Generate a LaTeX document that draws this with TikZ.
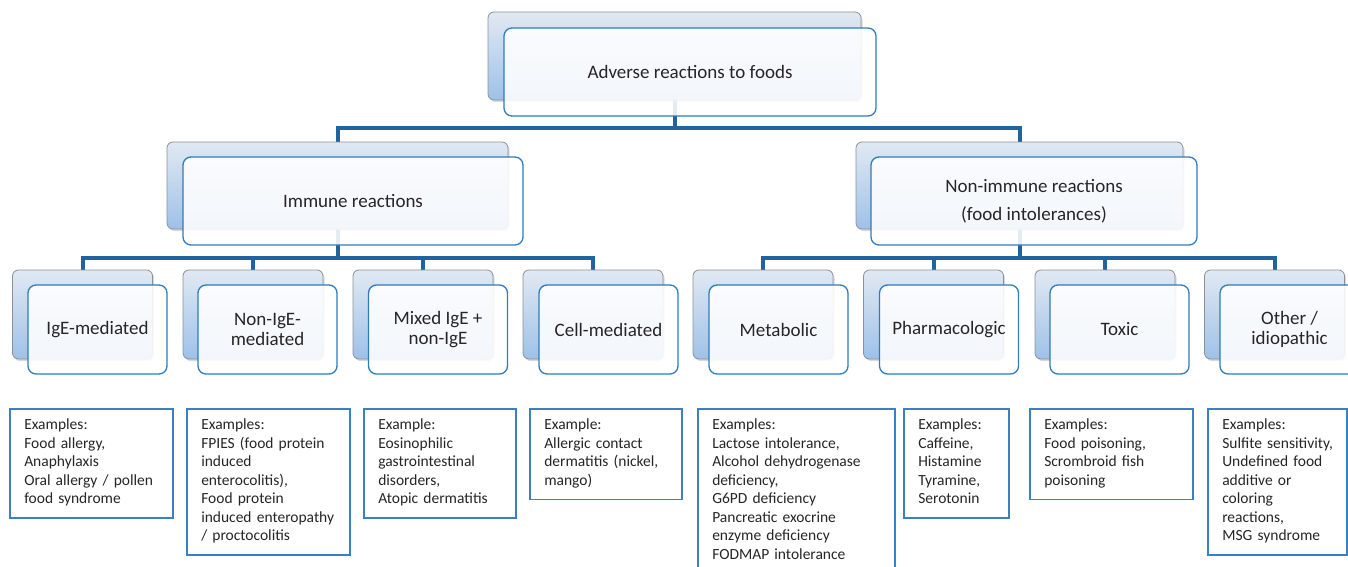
\documentclass[tikz,border=0pt]{standalone}
\usepackage{fontspec}
\setmainfont{Carlito}
\usetikzlibrary{shadows}
\definecolor{connblue}{HTML}{21639E}
\definecolor{frontblue}{HTML}{2E7BBD}
\definecolor{backtop}{HTML}{E1E9F2}
\definecolor{backbot}{HTML}{9EC1E8}
\definecolor{backline}{HTML}{8C9096}
\definecolor{exblue}{HTML}{3A80C2}
\definecolor{txt}{HTML}{262626}
\pgfdeclarelayer{bg}
\pgfsetlayers{bg,main}
\begin{document}
\begin{tikzpicture}[x=1pt,y=-1pt,
  backbox/.style={draw=backline, line width=0.8pt, rounded corners=6pt,
    top color=backtop, bottom color=backbot,
    drop shadow={opacity=0.3, shadow xshift=1.5pt, shadow yshift=-2pt},
    inner sep=0pt},
  frontbox/.style={draw=frontblue, line width=1.3pt, rounded corners=8pt,
    fill=white, fill opacity=0.88, text opacity=1, text=txt, align=center,
    inner sep=0pt, font=\fontsize{19}{20}\selectfont},
  leafback/.style={backbox, minimum width=140pt, minimum height=89pt},
  leaffront/.style={frontbox, minimum width=139pt, minimum height=89pt},
  conn/.style={draw=connblue, line width=4pt},
  exbox/.style={draw=exblue, line width=1.5pt, fill=white, anchor=north west,
    inner xsep=14.5pt, inner ysep=8.25pt, align=left, text=txt,
    font=\fontsize{15.5}{18.5}\selectfont}]
\useasboundingbox (0,0) rectangle (1348,567);

% top level
\node[backbox, minimum width=373pt, minimum height=88pt] (rootb) at (674.5,56) {};
% level 2 back
\node[backbox, minimum width=341pt, minimum height=87pt] (immb) at (337.5,185.5) {};
\node[backbox, minimum width=327pt, minimum height=87pt] (nonb) at (1019.5,185.5) {};
% level 3 back
\node[leafback] (l1b) at (82.5,314.5) {};
\node[leafback] (l2b) at (253,314.5) {};
\node[leafback] (l3b) at (423,314.5) {};
\node[leafback] (l4b) at (593,314.5) {};
\node[leafback] (l5b) at (763,314.5) {};
\node[leafback] (l6b) at (933.5,314.5) {};
\node[leafback] (l7b) at (1105,314.5) {};
\node[leafback] (l8b) at (1274.5,314.5) {};

% front boxes
\node[frontbox, minimum width=372pt, minimum height=88pt] (root) at (690,72) {Adverse reactions to foods};
\node[frontbox, minimum width=340pt, minimum height=88pt] (imm) at (353,201) {Immune reactions};
\node[frontbox, minimum width=326pt, minimum height=88pt, font=\fontsize{19}{28}\selectfont] (non) at (1034,201) {Non-immune reactions\\(food intolerances)};
\node[leaffront] (l1) at (97.5,329.5) {IgE-mediated};
\node[leaffront] (l2) at (267.5,329.5) {Non-IgE-\\mediated};
\node[leaffront] (l3) at (438,329.5) {Mixed IgE +\\non-IgE};
\node[leaffront] (l4) at (608.5,329.5) {Cell-mediated};
\node[leaffront] (l5) at (778.5,329.5) {Metabolic};
\node[leaffront] (l6) at (949,329.5) {Pharmacologic};
\node[leaffront] (l7) at (1119.5,329.5) {Toxic};
\node[leaffront] (l8) at (1289.5,329.5) {Other /\\idiopathic};

% connectors
\coordinate (bus0) at (674.5,128);
\coordinate (busL) at (337.5,258);
\coordinate (busR) at (1019.5,258);
\begin{pgfonlayer}{bg}
\draw[conn] (rootb.south) -- (bus0);
\draw[conn] (immb.north) |- (bus0) -| (nonb.north);
\draw[conn] (immb.south) -- (busL);
\draw[conn] (l1b.north) |- (busL) -| (l4b.north);
\draw[conn] (l2b.north) -- (l2b.north |- busL);
\draw[conn] (l3b.north) -- (l3b.north |- busL);
\draw[conn] (nonb.south) -- (busR);
\draw[conn] (l5b.north) |- (busR) -| (l8b.north);
\draw[conn] (l6b.north) -- (l6b.north |- busR);
\draw[conn] (l7b.north) -- (l7b.north |- busR);
\end{pgfonlayer}

% example boxes
\node[exbox, text width=134pt] (e1) at (9,408) {\begin{tabular}{@{}l@{}}Examples:\\Food allergy,\\Anaphylaxis\\Oral allergy / pollen\\food syndrome\end{tabular}};
\node[exbox, text width=134pt] (e2) at (186,408) {\begin{tabular}{@{}l@{}}Examples:\\FPIES (food protein\\induced\\enterocolitis),\\Food protein\\induced enteropathy\\/ proctocolitis\end{tabular}};
\node[exbox, text width=123pt] (e3) at (363,408) {\begin{tabular}{@{}l@{}}Example:\\Eosinophilic\\gastrointestinal\\disorders,\\Atopic dermatitis\end{tabular}};
\node[exbox, text width=123pt] (e4) at (529,408) {\begin{tabular}{@{}l@{}}Example:\\Allergic contact\\dermatitis (nickel,\\mango)\end{tabular}};
\node[exbox, text width=168pt] (e5) at (697,408) {\begin{tabular}{@{}l@{}}Examples:\\Lactose intolerance,\\Alcohol dehydrogenase\\deficiency,\\G6PD deficiency\\Pancreatic exocrine\\enzyme deficiency\\FODMAP intolerance\end{tabular}};
\node[exbox, text width=76pt] (e6) at (903,408) {\begin{tabular}{@{}l@{}}Examples:\\Caffeine,\\Histamine\\Tyramine,\\Serotonin\end{tabular}};
\node[exbox, text width=134pt] (e7) at (1029,408) {\begin{tabular}{@{}l@{}}Examples:\\Food poisoning,\\Scrombroid fish\\poisoning\end{tabular}};
\node[exbox, text width=110pt] (e8) at (1207,408) {\begin{tabular}{@{}l@{}}Examples:\\Sulfite sensitivity,\\Undefined food\\additive or\\coloring\\reactions,\\MSG syndrome\end{tabular}};
\end{tikzpicture}
\end{document}
